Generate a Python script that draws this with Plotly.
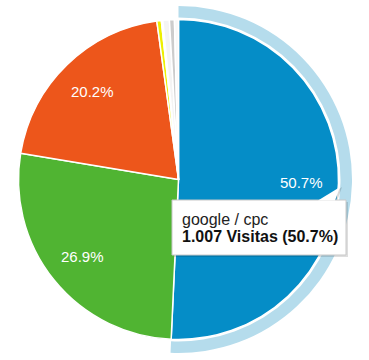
import math
import plotly.graph_objects as go

W, H = 369, 360

# Data
labels = ["google / cpc", "(direct) / (none)", "google / organic", "referral A", "referral B", "referral C", "referral D", "other"]
visits = [1007, 534, 401, 9, 3, 13, 10, 8]
colors = ["#058DC7", "#50B432", "#ED561B", "#EDEF00", "#24CBE5", "#F4F4F4", "#CCCCCC", "#F8F8F8"]
shown_labels = ["50.7%", "26.9%", "20.2%", "", "", "", "", ""]
halo_colors = ["#B5DCEC"] + ["rgba(0,0,0,0)"] * (len(visits) - 1)

tooltip_title = "google / cpc"
tooltip_value = "1.007 Visitas (50.7%)"

FONT = "Liberation Sans, Arial, sans-serif"

# geometry (pixels, screen coords; page margin removed below)
cx, cy = 178.5, 179.5
r_in, r_out = 160.0, 173.5


def sx(x):
    return x / W


def sy(y):
    return (H - y) / H


def px_dom(r):
    return dict(x=[(cx - r) / W, (cx + r) / W],
                y=[(H - cy - r) / H, (H - cy + r) / H])


fig = go.Figure()

# halo ring behind highlighted slice
fig.add_trace(go.Pie(
    labels=labels, values=visits, sort=False, direction="clockwise", rotation=0,
    hole=162.0 / r_out, domain=px_dom(r_out),
    marker=dict(colors=halo_colors, line=dict(width=0)),
    textinfo="none", hoverinfo="skip", showlegend=False,
))

fig.add_trace(go.Pie(
    labels=labels, values=visits, sort=False, direction="clockwise", rotation=0,
    domain=px_dom(r_in),
    marker=dict(colors=colors, line=dict(color="white", width=1.5)),
    textinfo="none", hoverinfo="skip", showlegend=False,
))

# slice labels placed at 0.77 r along each slice's mid angle (derived from values)
total = sum(visits)
cum = 0.0
for v, lab in zip(visits, shown_labels):
    mid = (cum + v / 2) / total * 2 * math.pi
    cum += v
    if not lab:
        continue
    lx = cx + 0.77 * r_in * math.sin(mid)
    ly = cy - 0.77 * r_in * math.cos(mid)
    fig.add_annotation(xref="paper", yref="paper", x=sx(lx), y=sy(ly),
                       xanchor="center", yanchor="middle", showarrow=False, text=lab,
                       font=dict(family=FONT, size=15, color="white"))

# tooltip box (screen coords)
bx0, by0, bx1, by1 = 172, 200, 346, 255
shapes = [
    dict(type="rect", xref="paper", yref="paper", x0=sx(bx0 + 2), y0=sy(by1 + 2), x1=sx(bx1 + 2), y1=sy(by0 + 2),
         fillcolor="rgba(0,0,0,0.13)", line=dict(width=0), layer="above"),
    dict(type="path", xref="paper", yref="paper",
         path=f"M {sx(320)},{sy(201)} L {sx(342)},{sy(187)} L {sx(337)},{sy(201)} Z",
         fillcolor="rgba(0,0,0,0.15)", line=dict(width=0), layer="above"),
    dict(type="rect", xref="paper", yref="paper", x0=sx(bx0), y0=sy(by1), x1=sx(bx1), y1=sy(by0),
         fillcolor="white", line=dict(color="#C8C8C8", width=1), layer="above"),
    dict(type="path", xref="paper", yref="paper",
         path=f"M {sx(318)},{sy(200.5)} L {sx(340)},{sy(187)} L {sx(335)},{sy(200.5)} Z",
         fillcolor="white", line=dict(width=0), layer="above"),
]

fig.add_annotation(
    xref="paper", yref="paper", x=sx(180), y=sy(219.5), xanchor="left", yanchor="middle",
    align="left", showarrow=False, text=tooltip_title,
    font=dict(family=FONT, size=16, color="#222222"),
)
fig.add_annotation(
    xref="paper", yref="paper", x=sx(180), y=sy(236), xanchor="left", yanchor="middle",
    align="left", showarrow=False, text=f"<b>{tooltip_value}</b>",
    font=dict(family=FONT, size=16, color="#111111"),
)

fig.update_layout(
    width=W, height=H, margin=dict(l=0, r=0, t=0, b=0),
    paper_bgcolor="white", plot_bgcolor="white", shapes=shapes,
)

fig.write_html("out.html", config={"displayModeBar": False},
               post_script="document.body.style.margin='0';")
